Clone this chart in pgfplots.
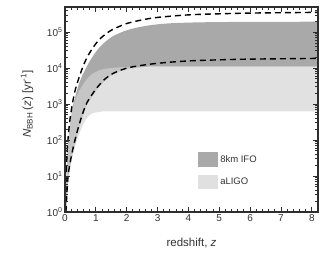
\documentclass[border=0pt]{standalone}
\usepackage{fontspec}
\setmainfont{Liberation Sans}
\usepackage{pgfplots}
\usepackage{pgfplotstable}
\pgfplotsset{compat=1.18}
\usepgfplotslibrary{fillbetween}
\definecolor{darkband}{gray}{0.663}
\definecolor{lightband}{gray}{0.827}
\definecolor{leglight}{gray}{0.88}
\definecolor{framec}{gray}{0.18}

% upper dashed curve
\pgfplotstableread{
z N
0.015 1
0.04 10
0.07 50
0.1 112
0.15 316
0.2 631
0.27 1413
0.35 2818
0.48 6310
0.6 12023
0.76 23442
1.0 47863
1.18 70795
1.4 100000
1.61 125893
2.0 173780
2.5 218776
3.0 257040
4.0 301995
5.0 323594
6.0 338844
7.0 346737
8.2 354813
}\UD
% lower dashed curve
\pgfplotstableread{
z N
0.03 1
0.1 10
0.23 45
0.4 178
0.55 479
0.7 1047
0.88 1862
1.05 2951
1.3 5012
1.6 7413
2.1 10471
2.96 13490
4.0 15849
5.0 16982
6.0 17783
8.2 18621
}\LD
% 8km IFO band, upper edge
\pgfplotstableread{
z N
0.02 1
0.05 10
0.1 79
0.2 447
0.3 1259
0.49 4467
0.76 13490
1.0 28184
1.2 44668
1.5 72444
1.84 100000
2.2 125893
2.74 154882
3.5 177828
5.0 190546
8.2 194984
}\UE
% 8km IFO band, lower edge
\pgfplotstableread{
z N
0.04 1
0.1 8
0.23 35
0.4 141
0.55 398
0.7 891
0.88 1585
1.05 2630
1.3 4467
1.6 7079
2.0 9333
2.5 10471
3.0 10965
8.2 10965
}\LE
% aLIGO band, upper edge
\pgfplotstableread{
z N
0.025 1
0.06 20
0.1 71
0.2 398
0.3 1047
0.4 1862
0.53 2951
0.7 4786
0.9 7079
1.2 9120
1.6 10233
2.2 10839
3.0 10965
8.2 10965
}\UA
% aLIGO band, lower edge
\pgfplotstableread{
z N
0.04 1
0.11 7
0.21 26
0.38 93
0.59 275
0.75 447
0.91 562
1.2 617
1.6 631
8.2 631
}\LA

\begin{document}
\begin{tikzpicture}
\begin{axis}[
  scale only axis, width=253pt, height=205pt,
  xmin=0, xmax=8.2, ymin=1, ymax=5e5,
  ymode=log,
  axis on top,
  axis line style={line width=1.8pt, draw=framec},
  tick style={line width=0.9pt, draw=framec},
  major tick length=5pt, minor tick length=2.8pt,
  tick align=inside,
  xtick={0,1,2,3,4,5,6,7,8},
  xticklabels={0,1,2,3,4,5,6,7,8},
  minor x tick num=4,
  ytick={1,10,100,1000,10000,100000},
  yticklabels={10\textsuperscript{0},10\textsuperscript{1},10\textsuperscript{2},10\textsuperscript{3},10\textsuperscript{4},10\textsuperscript{5}},
  minor ytick={2,3,4,5,6,7,8,9,20,30,40,50,60,70,80,90,200,300,400,500,600,700,800,900,2000,3000,4000,5000,6000,7000,8000,9000,20000,30000,40000,50000,60000,70000,80000,90000,200000,300000,400000,500000},
  ticklabel style={font=\fontsize{10}{11}\selectfont, text=black!80},
  xticklabel style={yshift=1pt},
  yticklabel style={xshift=1pt},
  xlabel={redshift, \textit{z}},
  ylabel={\textit{N}\textsubscript{BBH}\,(\textit{z}) [yr\textsuperscript{-1}]},
  label style={font=\fontsize{11.5}{13}\selectfont, text=black!80},
  xlabel style={at={(axis description cs:0.5,-0.151)}, anchor=center},
  ylabel style={at={(axis description cs:-0.15,0.527)}, anchor=center},
  legend style={at={(axis description cs:0.526,0.293)}, anchor=north west,
    draw=none, fill=none, inner sep=0pt, row sep=8pt,
    font=\fontsize{9.5}{10}\selectfont, text=black!80,
    /tikz/every even column/.append style={column sep=3pt}},
  legend cell align=left,
  legend image code/.code={\fill[#1] (0pt,-7pt) rectangle (20pt,7.5pt);},
]
\addplot[name path=ue, draw=none, smooth, forget plot] table[x=z,y=N] {\UE};
\addplot[name path=le, draw=none, smooth, forget plot] table[x=z,y=N] {\LE};
\addplot[name path=ua, draw=none, smooth, forget plot] table[x=z,y=N] {\UA};
\addplot[name path=la, draw=none, smooth, forget plot] table[x=z,y=N] {\LA};
\addplot[fill=darkband, draw=none, forget plot] fill between[of=ue and le];
\addplot[fill=lightband, fill opacity=0.686, draw=none, forget plot] fill between[of=ua and la];
\addplot[black, line width=1.4pt, dash pattern=on 6pt off 4pt, smooth, forget plot] table[x=z,y=N] {\UD};
\addplot[black, line width=1.4pt, dash pattern=on 6pt off 4pt, smooth, forget plot] table[x=z,y=N] {\LD};
\addlegendimage{fill=darkband, draw=none}
\addlegendentry{8km IFO}
\addlegendimage{fill=leglight, draw=none}
\addlegendentry{aLIGO}
\end{axis}
\pgfresetboundingbox
\path[use as bounding box] (current axis.south west) ++(-65pt,-44pt) rectangle ++(333pt,256pt);
\end{tikzpicture}
\end{document}
